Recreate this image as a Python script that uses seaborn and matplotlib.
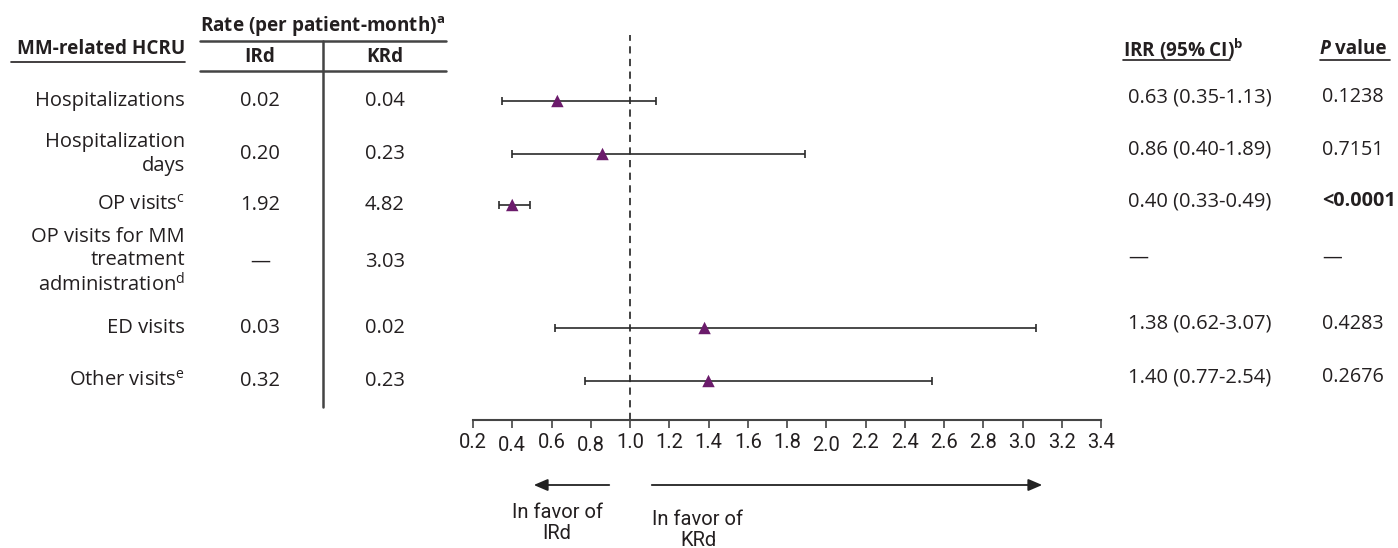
import numpy as np
import pandas as pd
import matplotlib
matplotlib.use("Agg")
import matplotlib.pyplot as plt
import matplotlib.transforms as mtransforms
import seaborn as sns

# ---- data ----
categories = [
    "Hospitalizations",
    "Hospitalization\ndays",
    "OP visits$^{c}$",
    "OP visits for MM\ntreatment\nadministration$^{d}$",
    "ED visits",
    "Other visits$^{e}$",
]
ird_rate = ["0.02", "0.20", "1.92", "\u2014", "0.03", "0.32"]
krd_rate = ["0.04", "0.23", "4.82", "3.03", "0.02", "0.23"]
irr = [0.63, 0.86, 0.40, np.nan, 1.38, 1.40]
ci_low = [0.35, 0.40, 0.33, np.nan, 0.62, 0.77]
ci_high = [1.13, 1.89, 0.49, np.nan, 3.07, 2.54]
p_values = ["0.1238", "0.7151", "<0.0001", "\u2014", "0.4283", "0.2676"]
x_ticks = [round(0.2 + 0.2 * i, 1) for i in range(17)]

# layout: vertical pixel position of each row
row_y = [101, 154, 205, 262, 328, 381]

df = pd.DataFrame({"irr": irr, "lo": ci_low, "hi": ci_high, "row": row_y})

sns.set_theme(style="white")
plt.rcParams["font.family"] = ["Open Sans", "DejaVu Sans"]
plt.rcParams["mathtext.fontset"] = "custom"
plt.rcParams["mathtext.rm"] = "Open Sans"
plt.rcParams["mathtext.bf"] = "Open Sans:bold"
plt.rcParams["mathtext.default"] = "regular"

TXT = "#231f20"
LINE = "#444444"
NARROW = ["Roboto", "DejaVu Sans"]
W, H = 1398, 548
FS = 14.5    # regular text
FSB = 13.6   # bold headers

fig = plt.figure(figsize=(W / 100, H / 100), dpi=100)

# overlay in pixel coordinates for the table text
tax = fig.add_axes([0, 0, 1, 1])
tax.set_xlim(0, W)
tax.set_ylim(H, 0)
tax.axis("off")

# forest plot axes
ax_top, ax_bot, ax_l, ax_r = 35, 420, 473, 1101
ax = fig.add_axes([ax_l / W, (H - ax_bot) / H, (ax_r - ax_l) / W, (ax_bot - ax_top) / H])
ax.set_xlim(0.2, 3.4)
ax.set_ylim(ax_bot, ax_top)
ax.patch.set_alpha(0)

ax.axvline(1.0, color="#333333", lw=1.3, ls=(0, (4, 3)), zorder=1)
ax.errorbar(df["irr"], df["row"], xerr=[df["irr"] - df["lo"], df["hi"] - df["irr"]],
            fmt="none", ecolor="#2a2a2a", elinewidth=1.2, capsize=3, capthick=1.2, zorder=2)
sns.scatterplot(data=df, x="irr", y="row", marker="^", s=80, color="#6b1b6b",
                edgecolor="none", legend=False, ax=ax, zorder=3)

for s in ["top", "left", "right"]:
    ax.spines[s].set_visible(False)
ax.spines["bottom"].set_color(LINE)
ax.spines["bottom"].set_linewidth(1.5)
ax.set_yticks([])
ax.set_xticks(x_ticks)
ax.set_xticklabels([f"{t:.1f}" for t in x_ticks], family=NARROW, fontsize=14.5, color=TXT)
ax.tick_params(axis="x", direction="out", length=5.5, width=1.2, color=LINE, pad=4,
               bottom=True)
ax.set_xlabel("")
ax.set_ylabel("")
# a few labels sit slightly lower in the original
for lab in ax.get_xticklabels():
    if lab.get_text() in ("0.4", "0.8", "2.0"):
        lab.set_transform(lab.get_transform() + mtransforms.ScaledTranslation(0, -3 / 100, fig.dpi_scale_trans))

# favour arrows
tax.annotate("", xy=(531, 485), xytext=(612, 485),
             arrowprops=dict(arrowstyle="-|>,head_length=0.7,head_width=0.3", color="#222", lw=1.3))
tax.annotate("", xy=(1045, 485), xytext=(649, 485),
             arrowprops=dict(arrowstyle="-|>,head_length=0.7,head_width=0.3", color="#222", lw=1.3))
tax.text(557, 523, "In favor of\nIRd", ha="center", va="center", family=NARROW,
         fontsize=14.5, color=TXT, linespacing=1.15)
tax.text(698, 530, "In favor of\nKRd", ha="center", va="center", family=NARROW,
         fontsize=14.5, color=TXT, linespacing=1.15)

# left table
tax.text(185, 49, "MM-related HCRU", ha="right", va="center", fontsize=FSB,
         fontweight="bold", color=TXT)
tax.plot([11, 185], [62, 62], color=TXT, lw=1.2)
tax.text(200, 27, r"Rate (per patient-month)$^{\mathbf{a}}$", ha="left", va="center",
         fontsize=FSB, fontweight="bold", color=TXT)
tax.plot([200, 446], [41, 41], color=LINE, lw=1.8)
tax.plot([200, 446], [71, 71], color=LINE, lw=1.8)
tax.plot([323, 323], [41, 407], color=LINE, lw=1.8)
tax.text(260, 57, "IRd", ha="center", va="center", fontsize=FSB, fontweight="bold", color=TXT)
tax.text(385, 57, "KRd", ha="center", va="center", fontsize=FSB, fontweight="bold", color=TXT)

for lab, a, b, y in zip(categories, ird_rate, krd_rate, row_y):
    tax.text(185, y, lab, ha="right", va="center", fontsize=FS, color=TXT, linespacing=1.2)
    tax.text(260, y, a, ha="center", va="center", fontsize=FS, color=TXT)
    tax.text(385, y, b, ha="center", va="center", fontsize=FS, color=TXT)

# right columns
tax.text(1123, 49, r"IRR (95% CI)$^{\mathbf{b}}$", ha="left", va="center", fontsize=FSB,
         fontweight="bold", color=TXT)
tax.plot([1123, 1230], [60, 60], color=TXT, lw=1.2)
tax.text(1320, 49, "P", ha="left", va="center", fontsize=FSB, fontweight="bold",
         style="italic", color=TXT)
tax.text(1335, 49, "value", ha="left", va="center", fontsize=FSB, fontweight="bold", color=TXT)
tax.plot([1320, 1390], [60, 60], color=TXT, lw=1.2)

for v, lo, hi, p, y in zip(irr, ci_low, ci_high, p_values, row_y):
    s = "\u2014" if np.isnan(v) else f"{v:.2f} ({lo:.2f}-{hi:.2f})"
    tax.text(1128, y - 4, s, ha="left", va="center", fontsize=FS, color=TXT)
    tax.text(1322, y - 4, p, ha="left", va="center", fontsize=FS - 0.3, color=TXT,
             fontweight="bold" if p.startswith("<") else "normal")

fig.savefig("out.png", dpi=100)
